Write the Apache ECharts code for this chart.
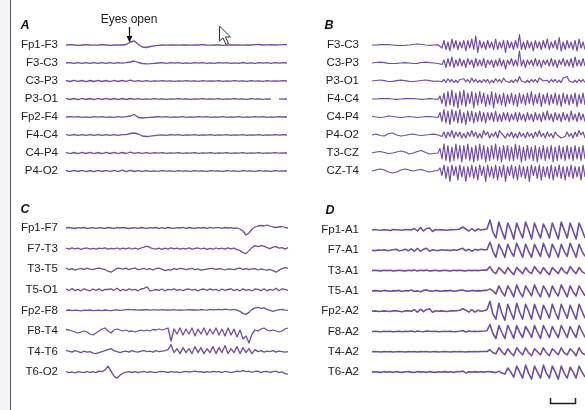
<!DOCTYPE html>
<html>
<head>
<meta charset="utf-8">
<script src="https://cdn.jsdelivr.net/npm/echarts@6/dist/echarts.min.js"></script>
<style>
  html, body { margin: 0; padding: 0; background: #fff; }
  #chart { width: 585px; height: 410px; }
</style>
</head>
<body>
<div id="chart"></div>
<script>
  // channel labels
  const namesA = ['Fp1-F3', 'F3-C3', 'C3-P3', 'P3-O1', 'Fp2-F4', 'F4-C4', 'C4-P4', 'P4-O2'];
  const namesB = ['F3-C3', 'C3-P3', 'P3-O1', 'F4-C4', 'C4-P4', 'P4-O2', 'T3-CZ', 'CZ-T4'];
  const namesC = ['Fp1-F7', 'F7-T3', 'T3-T5', 'T5-O1', 'Fp2-F8', 'F8-T4', 'T4-T6', 'T6-O2'];
  const namesD = ['Fp1-A1', 'F7-A1', 'T3-A1', 'T5-A1', 'Fp2-A2', 'F8-A2', 'T4-A2', 'T6-A2'];

  // deflections (px, up = positive)
  const tracesA = [
    [0,.3,0,-.3,0,.3,0,-.2,0,.3,0,-.3,0,.2,0,.5,3,4,.5,-2,-2.5,-1.5,-.8,-.4,0,-.2,.2,0,-.2,.2,0,-.2,.2,0,.3,0,-.2,.2,0,-.3,.2,0,.2,0,-.2,.2,0,.3,.5,0,.2,.3,0,.2,.4,.3],
    [0,.4,-.3,.3,-.4,.3,-.3,.4,-.3,.3,-.4,.3,-.3,.4,-.2,.3,1,2,.5,-.5,-.8,-.6,-.3,0,.3,-.3,.3,-.2,.3,-.3,.2,-.3,.3,-.2,.3,-.3,.2,-.3,.3,-.2,.3,-.3,.2,-.3,.5,-.3,.2,-.3,.3,-.2,.4,-.3,.3,-.2,.3,0],
    [.5,-.5,.6,-.4,.5,-.6,.5,-.5,.6,-.5,.5,-.6,.6,-.5,.5,-.4,.8,-.3,.4,-.3,.3,-.3,.2,-.2,.3,-.2,.2,-.3,.2,-.2,.3,-.2,.2,-.3,.3,-.2,.2,-.2,.3,-.3,.2,-.2,.3,-.2,.2,-.3,.4,-.2,.2,-.3,.3,-.2,.2,-.2,.3,0],
    [.6,-.5,.5,-.6,.6,-.5,.5,-.6,.6,-.5,.6,-.5,.5,-.6,.5,-.5,.5,-.4,.3,-.3,.2,-.3,.3,-.2,.2,-.3,.2,-.2,.3,-.2,.2,-.3,.2,-.2,.3,-.2,.2,-.2,.3,-.3,.2,-.2,.3,-.2,.2,-.3,.3,-.2,.2,-.3,.2,-.2,null,.2,-.2,0],
    [0,.3,-.2,.3,-.3,.2,-.3,.3,-.2,.3,-.3,.2,-.3,.3,-.2,.3,1,2.5,-.5,-1,-.6,-.3,0,.3,-.2,.3,-.3,.2,-.2,.3,-.3,.2,-.2,.3,-.2,.3,-.3,.2,-.2,.3,-.3,.2,-.2,.3,-.3,.2,-.2,.3,-.2,.3,-.3,.2,-.2,.3,0,0],
    [.3,-.4,.4,-.3,.4,-.4,.3,-.4,.4,-.3,.4,-.4,.3,-.4,.3,.4,1.5,2,1,-1,-1.5,-1.2,-.6,-.2,.2,-.3,.3,-.2,.3,-.3,.2,-.2,.3,-.3,.2,-.2,.3,-.3,.2,-.2,.3,-.3,.2,-.2,.3,-.3,.2,-.2,.3,-.3,.2,-.2,.3,-.2,.3,0],
    [.6,-.6,.5,-.6,.6,-.5,.6,-.6,.5,-.6,.6,-.5,.6,-.6,.5,-.5,.8,-.4,.4,-.3,.3,-.3,.3,-.2,.3,-.3,.2,-.2,.3,-.3,.2,-.2,.3,-.3,.2,-.2,.3,-.3,.2,-.2,.3,-.3,.2,-.2,.3,-.3,.2,-.2,.3,-.3,.2,-.2,.3,-.2,.2,0],
    [.5,-.6,.6,-.5,.6,-.6,.5,-.6,.6,-.5,.6,-.6,.7,-.7,.8,-.7,.6,-.5,.4,-.3,.3,-.3,.2,-.3,.3,-.2,.2,-.3,.3,-.2,.2,-.3,.3,-.2,.2,-.3,.3,-.2,.2,-.3,.3,-.2,.2,-.3,.3,-.2,.2,-.3,.3,-.2,.2,-.3,.3,-.2,.2,0]
  ];

  const preB = [
    [0,0,.3,.5,.3,0,-.3,-.5,-.3,0,.5,1,.5,0,-.3,0,.3],
    [0,.5,.8,.3,-.3,-.5,-.3,0,.3,0,-.5,-.3,.5,.8,.3,0,-.5],
    [0,.5,1,.3,-.5,-.3,.3,.8,.3,-.3,-.5,0,.5,1,.3,-.3,0],
    [0,0,.3,.5,.3,0,-.3,0,.3,.5,.3,0,-.3,0,.3,0,-.3],
    [.5,0,-.5,0,1,.5,0,-.5,0,.5,0,-.5,0,.5,.3,0,-.5],
    [0,1,-.5,-1,1.5,2,0,-1,-.5,.5,1,0,-.5,0,.5,.8,0],
    [0,1,1.5,.5,-.5,0,1,2,1,-1,0,1.5,2.5,.5,-1,-.5,0],
    [0,1,2,1,-1,-2,-1,1,2,1,0,1,1.5,0,-1,0,.5]
  ];
  const burstB = [
    [1,-2,3,-3,2,-4,4,-2,3,-3,2,-2,3,-4,3,-2,4,-3,6,-5,3,-2,2,-3,3,-2,2,-3,4,-3,2,-2,3,-5,3,-2,2,-3,3,-2,7,-3,2,-3,3,-2,2,-4,3,-2,2,-3,3,-2,4,-3,2,-2,3,-3,5,-4,2,-3,3,-2,2,-3,3,-4,4,-2,2,-3],
    [1,-1,2,-3,3,-2,4,-3,2,-2,3,-2,2,-3,3,-1,2,-3,3,-2,2,-2,3,-3,2,-1,2,-3,2,-2,3,-2,2,-4,2,-1,3,-2,2,-2,8,-2,2,-3,2,-1,2,-2,3,-2,2,-3,2,-1,2,-2,3,-2,2,-3,2,-1,3,-2,2,-2,3,-3,4,-2,2,-2,3,-2],
    [.5,-.5,1,-1,1.5,-.5,1,-1,.5,-1,1,0,1.5,-.5,1,-1,2,-.5,1,-1,.5,-1,1,-.5,1,-1.5,.5,-1,1.5,-.5,1,-1,2,0,1,-1,.5,-1,1,-.5,3,0,1,-1,.5,-1,1,-.5,1,-1,2,1,0,-1,.5,-1,1,-.5,1,-1,.5,-1,2,1,3,0,-1,-1,.5,-1,1,-.5,1,-1],
    [2,-3,4,-5,5,-4,6,-5,4,-6,5,-4,6,-5,4,-3,5,-6,4,-4,5,-3,4,-5,3,-4,5,-6,4,-3,3,-4,4,-5,3,-3,4,-4,3,-5,4,-3,3,-4,4,-3,5,-4,3,-3,4,-5,3,-3,4,-4,3,-3,4,-4,3,-5,4,-3,3,-4,3,-3,4,-5,3,-3,4,-4],
    [3,-3,5,-4,4,-5,5,-3,4,-4,5,-4,3,-5,4,-3,4,-4,3,-3,4,-3,3,-4,3,-2,3,-3,4,-3,2,-3,3,-2,3,-3,2,-2,3,-3,3,-2,2,-3,3,-2,2,-3,3,-2,2,-3,3,-2,4,-2,2,-3,3,-2,2,-3,3,-2,2,-3,4,-2,2,-3,3,-2,2,-3],
    [1,-1,2,-2,2,-1,3,-2,2,-1,2,-2,1,-2,2,-1,3,-1,2,-2,1,-2,3,0,2,-2,1,-1,2,-2,3,1,2,-2,1,-1,2,-2,1,-2,2,-1,1,-2,2,-1,1,-2,2,-1,3,-1,1,-2,2,-1,1,-2,2,0,1,-2,-2,-1,2,-1,1,-2,2,-1,3,0,2,-2],
    [3,-4,6,-5,5,-6,4,-5,6,-4,5,-6,5,-4,6,-5,4,-6,5,-5,6,-4,5,-6,4,-5,5,-4,6,-5,4,-6,5,-4,5,-5,4,-5,6,-4,5,-6,4,-5,5,-4,4,-5,5,-6,4,-4,5,-5,4,-4,5,-6,4,-5,5,-4,4,-5,5,-4,4,-5,5,-4,4,-5,5,-4],
    [2,-3,4,-5,3,-7,4,-3,3,-6,4,-4,3,-7,3,-4,4,-5,3,-6,4,-3,3,-7,4,-4,3,-5,4,-6,3,-4,4,-7,3,-3,4,-5,3,-6,4,-4,3,-5,3,-7,4,-3,3,-5,4,-6,3,-4,3,-5,4,-6,3,-4,4,-5,3,-6,3,-4,4,-5,3,-4,3,-6,4,-4]
  ];

  const tracesC = [
    [0,.5,0,-.5,.3,0,.5,-.3,0,.4,-.3,.3,0,-.3,.5,0,-.4,.3,0,.5,0,-.5,0,.3,-.3,.5,0,-.4,.3,0,.5,-.3,.4,-.3,.5,0,-.4,.3,0,.6,-.3,.5,0,-.3,.4,0,.5,-.3,.6,-.2,.4,.3,-.3,.5,0,.4,-.3,0,-1,-3,-7,-5,-1,1,2,2.5,2,3,2,1,.5,1,1.5,.5,0],
    [.5,-.5,.8,-.3,.5,-.8,.3,.6,-.5,.3,-.6,.5,0,.8,-.5,.3,-.3,.6,-.6,.4,-.3,.8,-.4,.5,-.5,.6,1.5,2.5,1,0,-.6,.5,-.8,.4,-.5,.8,-.3,.5,-.6,.3,-.4,.8,-.5,.3,.6,-.4,.5,-.8,.3,-.5,.6,-.3,.5,-.5,.8,-.3,.4,-1,-2,-4,-5,-2,1,3,2,3,2.5,1,0,1.5,2,.5,1,-.5,1],
    [1,-.5,.5,-1,0,.8,-.5,1,0,-.5,.5,1,.3,-.3,-2,-3,-1,1,.8,0,1,-.5,.5,1,-.5,0,.8,-.3,.5,-.8,.5,1,0,-1.5,-.5,-1,.5,-.3,.8,.5,-.5,.3,.8,-.5,.3,-1,-.5,0,.5,.8,-.3,.5,.2,-.8,.3,0,-.5,.5,1,-.3,.5,-.5,.3,.5,-.8,.3,-.5,-1,-.3,-1.5,-3,-1,.5,1.5,1],
    [1,-1,1.2,-.8,.5,-1,1,0,-1,.8,-.5,1,-1,.5,.3,1,-.5,1.5,-1,.5,-.8,1,-.3,.5,-1,.8,1.5,3,-1,-.5,.3,-.5,.8,-1,.5,0,1,-.5,.3,-.8,.5,.8,-.3,.5,-1,.3,.8,-.5,1,-.3,.5,-1,.8,-.5,.3,1,-.8,.5,-1,1,-.5,.3,-1,.8,.5,-.8,1,-1,.5,-.5,1.5,-1,1,.5,-.5],
    [0,.4,-.3,.3,0,-.4,.3,0,.4,-.3,0,.3,-.3,.4,0,-.3,.3,.5,0,.3,.8,1,.5,.8,.3,.6,.4,.8,.3,.5,.6,.3,.8,.2,.5,.3,.7,.2,.6,.3,.5,.8,.4,.6,.3,.8,.5,.3,1,.6,.8,1,.5,1.2,.8,.5,1,.3,-1,-3,-4,-2,1,2.5,3,2,2.5,1,0,-1,0,.5,1,.3,0],
    [1.5,1,0,-1,-2,-1,0,-1,-3,-4,-2,0,2,3,0,-2,1,2,1,0,1,-.5,0,-1,0,1,0,1,0,1.5,1,2,1,2,3,-10,2,-3,3,-4,2,-3,3,-5,2,-3,3,-4,2,-3,3,-4,2,-5,3,-4,2,-6,1,-8,-5,-12,-3,1,0,2,3,1,0,1,0,-1,0,2,3],
    [1,.5,-.5,1,0,-1,.5,-.5,0,-1.5,-2,-1,0,1,2,3,1,0,-1,0,.5,-.5,1,0,-.5,.5,1,0,.5,-.5,1,0,.5,1,2,7,-1,3,-2,4,-1,3,-2,5,-1,4,-2,3,-1,5,-2,4,-1,6,-2,3,-1,5,-2,4,-1,3,-2,2,0,1,-.5,.5,0,1,-.5,.5,0,-.5,0],
    [.5,-.5,.3,-.8,.5,0,-.5,.8,-.3,.5,-.5,1,.5,2,6,1,-4,-6,-3,-1,0,.5,-.3,.5,-.5,.3,.8,-.3,.5,0,-.5,.5,.8,.3,-.3,.5,0,.3,-.5,.3,.8,0,.5,1,.3,.5,-.3,.5,0,.8,.3,.5,-.3,.8,.3,-.5,.3,1,.5,1.5,.5,1,-.3,.8,1,-.5,.5,.8,-.3,.5,1,-.5,.3,-1.5,-2]
  ];

  const preD = [
    [0,.5,0,-.3,.3,0,-.5,.5,.3,0,-.3,.5,.3,0,1.5,-1,2.5,-1,1.5,2,-1.5,.5,0,.3,0,-.3,.5,.3,.5,1,3,1,-1,1.5,-1,1,0,.5,1],
    [0,-.3,.3,0,.5,-.3,0,.5,1,-.5,0,1,-.5,1.5,-1,2,-1,1,2,-1,.5,0,-.3,.5,0,.3,-.3,.5,0,1,2,-.5,1,-1,1,0,1,.5,.5],
    [0,.3,0,-.3,.3,0,.3,-.3,0,.3,0,-.3,.3,0,.5,-.3,.3,0,.5,-.3,0,.3,-.3,0,.3,0,-.3,.3,0,.3,0,-.3,.3,0,.3,0,.3,.5,.5],
    [0,.3,0,-.3,.5,0,-.3,.3,0,.5,-.5,.3,0,.8,-.5,0,-.8,.5,1,0,-.3,.5,0,-.3,.3,0,.5,-.3,0,.5,.8,0,-.3,.5,0,.3,0,.5,.5],
    [0,.3,-.3,0,.3,0,-.3,.5,.3,0,-.5,.5,.3,0,1.5,-1,2,-.5,1.5,2.5,-1,.5,0,.3,0,-.3,.5,.3,.5,1,2.5,1,-1,1.5,-1,1,0,.5,1.5],
    [0,.3,0,-.3,.3,0,.3,-.3,0,.3,-.3,.3,0,.5,-.3,.5,0,-.3,.5,.3,0,.3,-.3,0,.3,0,.3,-.3,0,.3,1,-.5,.5,0,.3,0,.3,.5,.8],
    [0,.2,0,-.2,.2,0,.2,-.2,0,.2,0,-.2,.2,0,.2,-.2,.2,0,.3,-.2,0,.2,-.2,0,.2,0,-.2,.2,0,.2,0,-.2,.2,0,.2,0,.3,.3,.3],
    [0,.3,0,-.3,.5,0,.3,-.3,.5,0,-.3,.3,.5,0,-.3,.5,0,.3,-.3,.5,0,-.3,.3,0,.5,0,.3,-.3,.5,.3,1,-.8,.3,0,.5,0,.3,0,.3]
  ];
  const burstD = [
    [10,-2,-8,8,-1,-9,7,0,-9,7,-1,-8,8,0,-9,7,-1,-8,6,0,-8,7,-1,-9,8,0,-8,7,-1,-9,7,0,-8],
    [8,-1,-7,6,0,-7,6,-1,-6,7,0,-7,6,-1,-7,6,0,-6,7,-1,-7,6,0,-7,6,-1,-6,7,0,-7,6,-1,-6],
    [4,-1,-3,3,0,-3,3,-1,-4,3,0,-3,3,-1,-3,4,0,-3,3,-1,-4,3,0,-3,3,-1,-3,4,0,-3,3,-1,-3],
    [2,0,-3,5,-1,-5,5,0,-6,6,-1,-6,5,0,-5,6,-1,-6,5,0,-6,5,-1,-5,6,0,-6,5,-1,-5,5,0,-5],
    [10,-3,-8,8,-2,-9,7,-1,-8,8,-1,-8,7,0,-8,7,-1,-8,6,0,-7,7,-1,-8,7,0,-7,6,-1,-8,7,0,-7],
    [7,-2,-7,6,-1,-7,6,0,-7,6,-1,-6,5,0,-6,6,-1,-7,6,0,-6,5,-1,-6,6,0,-6,5,-1,-6,6,0,-6],
    [2,-1,-2,4,0,-3,3,-1,-4,4,0,-3,4,-1,-4,3,0,-3,4,-1,-4,3,0,-3,4,-1,-3,3,0,-4,4,-1,-3],
    [.5,0,-.5,1,-1,-2,4,0,-5,6,0,-6,7,-1,-7,6,0,-6,7,-1,-6,6,0,-7,6,-1,-6,5,0,-6,6,0,-5]
  ];

  const TRACE_COLOR = '#6f4f9e';
  const FONT = 'Liberation Sans, Arial, sans-serif';

  // x in px along the grid, y in row units (row r baseline = r); gain = px per data unit
  function pts(vals, x0, x1, row, pitch, gain, skipFirst) {
    const n = vals.length;
    return vals.map((v, i) => {
      const t = skipFirst ? (i + 1) / n : i / (n - 1);
      return [x0 + (x1 - x0) * t, v == null ? '-' : row - v * gain / pitch];
    });
  }

  const panels = [
    { names: namesA, left: 66, top: 27, width: 221, pitch: 18, margin: 8, lw: 1.3,
      data: (r, p) => pts(tracesA[r], 0, 221, r + 1, p, 1) },
    { names: namesB, left: 372, top: 27, width: 213, pitch: 18, margin: 13, lw: 1.2,
      data: (r, p) => pts(preB[r], 0, 66, r + 1, p, 1).concat(pts(burstB[r], 66, 213, r + 1, p, 1.5, true)) },
    { names: namesC, left: 66, top: 207.4, width: 222, pitch: 20.6, margin: 8, lw: 1.3,
      data: (r, p) => pts(tracesC[r], 0, 222, r + 1, p, 1) },
    { names: namesD, left: 372, top: 209.7, width: 213, pitch: 20.3, margin: 13, lw: 1.6,
      data: (r, p) => pts(preD[r], 0, 115, r + 1, p, 1).concat(pts(burstD[r], 115, 213, r + 1, p, 1, true)) }
  ];

  const grid = [], xAxis = [], yAxis = [], series = [];
  panels.forEach((p, gi) => {
    grid.push({ left: p.left, top: p.top, width: p.width, height: p.pitch * 9 });
    xAxis.push({ gridIndex: gi, type: 'value', min: 0, max: p.width, show: false });
    yAxis.push({
      gridIndex: gi, type: 'value', min: 0, max: 9, interval: 1, inverse: true,
      axisLine: { show: false }, axisTick: { show: false }, splitLine: { show: false },
      axisLabel: {
        margin: p.margin, color: '#222', fontSize: 11.5, fontFamily: FONT,
        formatter: (v) => p.names[v - 1] || ''
      }
    });
    p.names.forEach((name, r) => {
      series.push({
        name: name, type: 'line', xAxisIndex: gi, yAxisIndex: gi,
        data: p.data(r, p.pitch), symbol: 'none', clip: false, silent: true,
        lineStyle: { color: TRACE_COLOR, width: p.lw, join: 'round' }, animation: false
      });
    });
  });

  const letter = (t, x, y) => ({
    type: 'text', x: x, y: y,
    style: { text: t, fontSize: 12.5, fontWeight: 'bold', fontStyle: 'italic', fontFamily: FONT,
             fill: '#111', textAlign: 'center', textVerticalAlign: 'middle' }
  });

  const chart = echarts.init(document.getElementById('chart'));
  chart.setOption({
    backgroundColor: '#fff',
    animation: false,
    grid, xAxis, yAxis, series,
    graphic: [
      { type: 'rect', shape: { x: 0, y: 0, width: 10, height: 410 }, style: { fill: '#f6f3f8' } },
      { type: 'line', shape: { x1: 10.5, y1: 0, x2: 10.5, y2: 410 }, style: { stroke: '#555', lineWidth: 1 } },
      letter('A', 25, 26), letter('B', 329, 26), letter('C', 25, 210), letter('D', 330, 211),
      { type: 'text', x: 129, y: 20,
        style: { text: 'Eyes open', fontSize: 12, fontFamily: FONT, fill: '#222',
                 textAlign: 'center', textVerticalAlign: 'middle' } },
      { type: 'line', shape: { x1: 129.5, y1: 27, x2: 129.5, y2: 37 }, style: { stroke: '#111', lineWidth: 1.3 } },
      { type: 'polygon', shape: { points: [[126.5, 36], [132.5, 36], [129.5, 42.5]] }, style: { fill: '#111' } },
      // mouse pointer captured in the screenshot
      { type: 'polygon',
        shape: { points: [[219.5, 26], [219.5, 41], [223, 38], [226, 44.5], [228.5, 43.5], [225.5, 37], [230.5, 37]] },
        style: { fill: '#fff', stroke: '#333', lineWidth: 1 } },
      // scale bar
      { type: 'polyline', shape: { points: [[550.5, 398], [550.5, 403.5], [575.5, 403.5], [575.5, 398]] },
        style: { stroke: '#222', lineWidth: 1.5, fill: null } }
    ]
  });
</script>
</body>
</html>
